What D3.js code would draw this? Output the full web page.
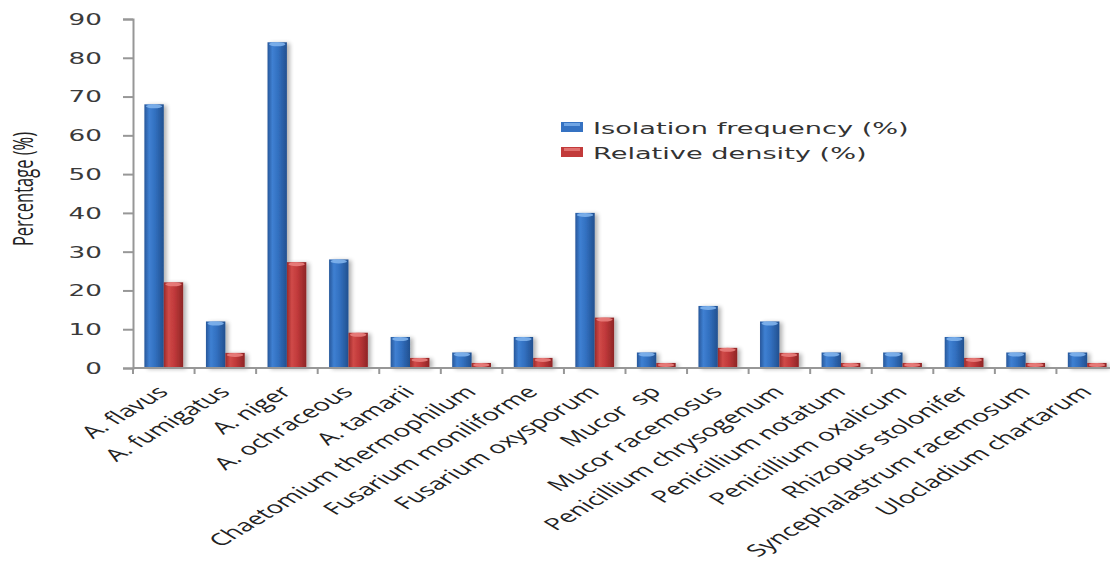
<!DOCTYPE html>
<html>
<head>
<meta charset="utf-8">
<script src="https://cdn.jsdelivr.net/npm/d3@7/dist/d3.min.js"></script>
<style>
  html, body { margin: 0; padding: 0; background: #fff; }
  svg { display: block; }
</style>
</head>
<body>
<svg id="chart" width="1110" height="562"></svg>
<script>
// Fungal species isolated, with isolation frequency and relative density (%)
const species = [
  "A. flavus", "A. fumigatus", "A. niger", "A. ochraceous", "A. tamarii",
  "Chaetomium thermophilum", "Fusarium moniliforme", "Fusarium oxysporum",
  "Mucor  sp", "Mucor racemosus", "Penicillium chrysogenum", "Penicillium notatum",
  "Penicillium oxalicum", "Rhizopus stolonifer", "Syncephalastrum racemosum",
  "Ulocladium chartarum"
];
const isolationFrequency = [68, 12, 84, 28, 8, 4, 8, 40, 4, 16, 12, 4, 4, 8, 4, 4];
const relativeDensity = [22.1, 3.9, 27.3, 9.1, 2.6, 1.3, 2.6, 13.0, 1.3, 5.2, 3.9, 1.3, 1.3, 2.6, 1.3, 1.3];
const seriesNames = ["Isolation frequency (%)", "Relative density (%)"];
const yTicks = [0, 10, 20, 30, 40, 50, 60, 70, 80, 90];
const yTitle = "Percentage (%)";

const svg = d3.select("#chart");
const SX = 1.66;            // horizontal text stretch used throughout the figure
const plotLeft = 133, plotRight = 1118, plotTop = 19, plotBottom = 368;

const x = d3.scaleBand().domain(species).range([plotLeft, plotRight]).paddingInner(0.37).paddingOuter(0.185);
const xSub = d3.scaleBand().domain([0, 1]).range([0, x.bandwidth()]);
const y = d3.scaleLinear().domain([0, 90]).range([plotBottom, plotTop]);

const defs = svg.append("defs");
function barGradient(id, dark, mid, light, edge) {
  const g = defs.append("linearGradient").attr("id", id).attr("x1", 0).attr("x2", 1).attr("y1", 0).attr("y2", 0);
  g.append("stop").attr("offset", "0%").attr("stop-color", dark);
  g.append("stop").attr("offset", "25%").attr("stop-color", light);
  g.append("stop").attr("offset", "55%").attr("stop-color", mid);
  g.append("stop").attr("offset", "100%").attr("stop-color", edge);
}
barGradient("gBlue", "#27579a", "#3270c0", "#3f80d2", "#22508f");
barGradient("gRed", "#9a2a2a", "#c0393a", "#d04a48", "#8e2526");
const sh = defs.append("filter").attr("id", "shadow").attr("x", "-30%").attr("y", "-10%").attr("width", "180%").attr("height", "130%");
sh.append("feGaussianBlur").attr("in", "SourceAlpha").attr("stdDeviation", 2).attr("result", "b");
sh.append("feOffset").attr("in", "b").attr("dx", 3).attr("dy", 1).attr("result", "o");
sh.append("feComponentTransfer").attr("in", "o").attr("result", "s")
  .append("feFuncA").attr("type", "linear").attr("slope", 0.3);
const m = sh.append("feMerge");
m.append("feMergeNode").attr("in", "s");
m.append("feMergeNode").attr("in", "SourceGraphic");

const series = [
  { name: seriesNames[0], values: isolationFrequency, fill: "url(#gBlue)", cap: "#7fb2ec", swatch: "#3572c2" },
  { name: seriesNames[1], values: relativeDensity, fill: "url(#gRed)", cap: "#e9807d", swatch: "#c23a3a" }
];

// axes
const axisColor = "#979797";
const yAxis = svg.append("g").attr("transform", `translate(${plotLeft},0)`)
  .call(d3.axisLeft(y).tickValues(yTicks).tickSize(10).tickSizeOuter(10).tickFormat(""));
yAxis.select(".domain").attr("stroke", axisColor).attr("stroke-width", 2);
yAxis.selectAll(".tick line").attr("stroke", axisColor).attr("stroke-width", 2);

yAxis.selectAll(".tick").append("text")
  .attr("transform", `translate(-31,0) scale(1.75,1)`)
  .attr("text-anchor", "end").attr("dy", "0.36em")
  .attr("fill", "#3a3a3a").attr("font-family", "DejaVu Sans").attr("font-size", 15)
  .text(d => d);

// bars
const groups = svg.append("g").selectAll("g").data(series).join("g")
  .attr("filter", "url(#shadow)");
groups.each(function (s, si) {
  const g = d3.select(this);
  const w = xSub.bandwidth();
  g.selectAll("rect").data(species).join("rect")
    .attr("x", (d) => x(d) + xSub(si))
    .attr("y", (d, i) => y(s.values[i]))
    .attr("width", w)
    .attr("height", (d, i) => y(0) - y(s.values[i]))
    .attr("fill", s.fill);
  g.selectAll("ellipse").data(species).join("ellipse")
    .attr("cx", (d) => x(d) + xSub(si) + w / 2)
    .attr("cy", (d, i) => y(s.values[i]) + 2)
    .attr("rx", w / 2 - 1.5)
    .attr("ry", 2)
    .attr("fill", s.cap).attr("opacity", 0.9);
});

// x axis with ticks at category boundaries
const xg = svg.append("g");
xg.append("line").attr("x1", plotLeft).attr("x2", plotRight).attr("y1", plotBottom).attr("y2", plotBottom)
  .attr("stroke", axisColor).attr("stroke-width", 2);
const bounds = species.map(d => x(d) - x.step() * x.paddingInner() / 2);
xg.selectAll("line.tk").data(bounds).join("line").attr("class", "tk")
  .attr("x1", d => d).attr("x2", d => d).attr("y1", plotBottom).attr("y2", plotBottom + 6)
  .attr("stroke", axisColor).attr("stroke-width", 2);
xg.selectAll("text").data(species).join("text")
  .attr("transform", d => `translate(${x(d) + x.bandwidth() / 2 + 6},${plotBottom + 25}) scale(${SX},1) rotate(-45)`)
  .attr("text-anchor", "end")
  .style("white-space", "pre")
  .attr("fill", "#222").attr("font-family", "Open Sans").attr("font-size", 16.8)
  .text(d => d);

// y title
svg.append("text")
  .attr("transform", `translate(33,189) scale(${SX},1) rotate(-90)`)
  .attr("text-anchor", "middle")
  .attr("fill", "#222").attr("font-family", "Open Sans").attr("font-size", 16.5)
  .text(yTitle);

// legend
const lg = svg.append("g").attr("transform", "translate(561,122)");
const items = lg.selectAll("g").data(series).join("g").attr("transform", (d, i) => `translate(0,${i * 25})`);
items.append("rect").attr("width", 22).attr("height", 10).attr("fill", d => d.swatch);
items.append("rect").attr("x", 3).attr("y", 1).attr("width", 16).attr("height", 3).attr("fill", d => d.cap).attr("opacity", 0.8);
items.append("text")
  .attr("transform", `translate(32,12) scale(1.7,1)`)
  .attr("fill", "#333").attr("font-family", "DejaVu Sans").attr("font-size", 16)
  .text(d => d.name);
</script>
</body>
</html>
